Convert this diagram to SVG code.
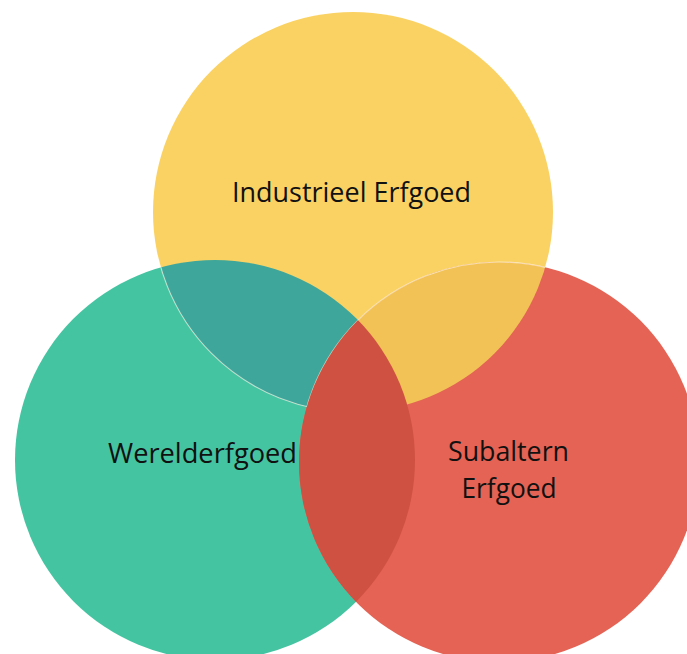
<svg xmlns="http://www.w3.org/2000/svg" width="687" height="654" viewBox="0 0 687 654">
  <style>
    .lbl { font-family: "Open Sans", "Liberation Sans", Arial, sans-serif; font-size: 27px; fill: #111111; text-anchor: middle; }
    .edge { fill: none; stroke: #ffffff; stroke-opacity: 0.55; stroke-width: 1.2; }
  </style>
  <defs>
    <clipPath id="clipGreen"><circle cx="215" cy="460" r="200"/></clipPath>
    <clipPath id="clipYellow"><circle cx="353" cy="212" r="200"/></clipPath>
  </defs>
  <rect width="687" height="654" fill="#ffffff"/>
  <g id="node-werelderfgoed">
    <circle cx="215" cy="460" r="200" fill="#45C4A2"/>
    <text class="lbl" x="202.5" y="463" textLength="189" lengthAdjust="spacingAndGlyphs">Werelderfgoed</text>
  </g>
  <g id="node-industrieel-erfgoed">
    <circle cx="353" cy="212" r="200" fill="#FAD264"/>
    <text class="lbl" x="351.5" y="202" textLength="239" lengthAdjust="spacingAndGlyphs">Industrieel Erfgoed</text>
  </g>
  <g id="node-subaltern-erfgoed">
    <circle cx="499" cy="462" r="200" fill="#E46354"/>
    <text class="lbl" x="508.5" y="461" textLength="121" lengthAdjust="spacingAndGlyphs">Subaltern</text>
    <text class="lbl" x="509" y="498" textLength="95" lengthAdjust="spacingAndGlyphs">Erfgoed</text>
  </g>
  <g id="overlaps">
    <circle cx="353" cy="212" r="200" fill="#3EA69A" clip-path="url(#clipGreen)"/>
    <circle cx="499" cy="462" r="200" fill="#F2C256" clip-path="url(#clipYellow)"/>
    <circle class="edge" cx="353" cy="212" r="200" clip-path="url(#clipGreen)"/>
    <circle class="edge" cx="499" cy="462" r="200" clip-path="url(#clipYellow)"/>
    <circle cx="499" cy="462" r="200" fill="#CF5142" clip-path="url(#clipGreen)"/>
  </g>
  <g id="connectors"/>
</svg>
